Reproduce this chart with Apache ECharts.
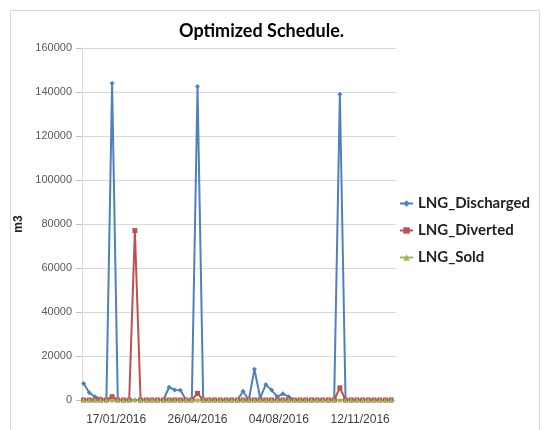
<!DOCTYPE html>
<html>
<head>
<meta charset="utf-8">
<script src="https://cdn.jsdelivr.net/npm/echarts@6/dist/echarts.min.js"></script>
<style>
  html, body { margin: 0; padding: 0; background: #fff; }
  #chart { width: 546px; height: 430px; }
</style>
</head>
<body>
<div id="chart"></div>
<script>
// weekly dates of the schedule
var weeks = [
  "08/12/2015", "15/12/2015", "22/12/2015", "29/12/2015", "05/01/2016",
  "12/01/2016", "19/01/2016", "26/01/2016", "02/02/2016", "09/02/2016",
  "16/02/2016", "23/02/2016", "01/03/2016", "08/03/2016", "15/03/2016",
  "22/03/2016", "29/03/2016", "05/04/2016", "12/04/2016", "19/04/2016",
  "26/04/2016", "03/05/2016", "10/05/2016", "17/05/2016", "24/05/2016",
  "31/05/2016", "07/06/2016", "14/06/2016", "21/06/2016", "28/06/2016",
  "05/07/2016", "12/07/2016", "19/07/2016", "26/07/2016", "02/08/2016",
  "09/08/2016", "16/08/2016", "23/08/2016", "30/08/2016", "06/09/2016",
  "13/09/2016", "20/09/2016", "27/09/2016", "04/10/2016", "11/10/2016",
  "18/10/2016", "25/10/2016", "01/11/2016", "08/11/2016", "15/11/2016",
  "22/11/2016", "29/11/2016", "06/12/2016", "13/12/2016", "20/12/2016"
];

var discharged = [
  7500, 3300, 1500, 600, 0, 144000, 0, 0, 0, 0,
  0, 0, 0, 0, 0, 5800, 4600, 4400, 0, 0,
  142500, 0, 0, 0, 0, 0, 0, 0, 4000, 0,
  14000, 1000, 7000, 4500, 1500, 2800, 1500, 0, 0, 0,
  0, 0, 0, 0, 0, 139000, 0, 0, 0, 0,
  0, 0, 0, 0, 0
];

var diverted = [
  0, 0, 0, 0, 0, 1500, 0, 0, 0, 77000,
  0, 0, 0, 0, 0, 0, 0, 0, 0, 0,
  3000, 0, 0, 0, 0, 0, 0, 0, 0, 0,
  0, 0, 0, 0, 0, 0, 0, 0, 0, 0,
  0, 0, 0, 0, 0, 5500, 0, 0, 0, 0,
  0, 0, 0, 0, 0
];

var sold = [
  0, 0, 0, 0, 0, 0, 0, 0, 0, 0,
  0, 0, 0, 0, 0, 0, 0, 0, 0, 0,
  0, 0, 0, 0, 0, 0, 0, 0, 0, 0,
  0, 0, 0, 0, 0, 0, 0, 0, 0, 0,
  0, 0, 0, 0, 0, 0, 0, 0, 0, 0,
  0, 0, 0, 0, 0
];

var tickLabels = ["17/01/2016", "26/04/2016", "04/08/2016", "12/11/2016"];
var axisStart = "06/12/2015";
var axisEnd = "26/12/2016";

// dd/mm/yyyy -> day number
function toDay(s) {
  var p = s.split("/");
  return Date.UTC(+p[2], +p[1] - 1, +p[0]) / 86400000;
}
function pairs(values) {
  var res = [];
  for (var i = 0; i < weeks.length; i++) {
    res.push([toDay(weeks[i]), values[i]]);
  }
  return res;
}
var labelByDay = {};
var tickDays = tickLabels.map(function (s) {
  labelByDay[toDay(s)] = s;
  return toDay(s);
});

var myChart = echarts.init(document.getElementById("chart"));

var option = {
  backgroundColor: "#fff",
  animation: false,
  title: {
    text: "Optimized Schedule.",
    left: 174,
    top: 17,
    textStyle: {
      fontFamily: "Lato",
      fontWeight: "bold",
      fontSize: 18,
      color: "#000"
    }
  },
  graphic: [
    {
      type: "rect",
      shape: { x: 10.5, y: 10.5, width: 529, height: 430 },
      style: { fill: "none", stroke: "#d9d9d9", lineWidth: 1 },
      silent: true
    }
  ],
  legend: {
    orient: "vertical",
    left: 394,
    top: 191,
    itemWidth: 13,
    itemHeight: 8,
    itemGap: 12,
    textStyle: {
      fontFamily: "Lato",
      fontWeight: "bold",
      fontSize: 15,
      color: "#222"
    },
    data: ["LNG_Discharged", "LNG_Diverted", "LNG_Sold"]
  },
  grid: {
    left: 82,
    right: 150,
    top: 48,
    bottom: 30
  },
  xAxis: {
    type: "value",
    min: toDay(axisStart),
    max: toDay(axisEnd),
    splitLine: { show: false },
    axisLine: { lineStyle: { color: "#d9d9d9" } },
    axisTick: { show: false },
    axisLabel: {
      customValues: tickDays,
      margin: 14,
      fontFamily: "Liberation Sans",
      fontSize: 12,
      color: "#404040",
      formatter: function (v) {
        return labelByDay[v] || "";
      }
    }
  },
  yAxis: {
    type: "value",
    min: 0,
    max: 160000,
    interval: 20000,
    name: "m3",
    nameLocation: "middle",
    nameGap: 42,
    nameTextStyle: {
      fontFamily: "Liberation Sans",
      fontWeight: "bold",
      fontSize: 12,
      color: "#222"
    },
    axisLine: { show: true, lineStyle: { color: "#d9d9d9" } },
    axisTick: { show: true, length: 6, lineStyle: { color: "#bfbfbf" } },
    axisLabel: {
      margin: 10,
      fontFamily: "Liberation Sans",
      fontSize: 11,
      color: "#595959",
      formatter: function (v) {
        return String(v);
      }
    },
    splitLine: { lineStyle: { color: "#d9d9d9" } }
  },
  series: [
    {
      name: "LNG_Discharged",
      type: "line",
      data: pairs(discharged),
      symbol: "diamond",
      symbolSize: 5,
      lineStyle: { width: 2, color: "#4f81bd" },
      itemStyle: { color: "#4f81bd" }
    },
    {
      name: "LNG_Diverted",
      type: "line",
      data: pairs(diverted),
      symbol: "rect",
      symbolSize: 5,
      lineStyle: { width: 2, color: "#c0504d" },
      itemStyle: { color: "#c0504d" }
    },
    {
      name: "LNG_Sold",
      type: "line",
      data: pairs(sold),
      symbol: "triangle",
      symbolSize: 5,
      lineStyle: { width: 2, color: "#9bbb59" },
      itemStyle: { color: "#9bbb59" }
    }
  ]
};

myChart.setOption(option);
window.addEventListener("resize", function () {
  myChart.resize();
});
</script>
</body>
</html>
